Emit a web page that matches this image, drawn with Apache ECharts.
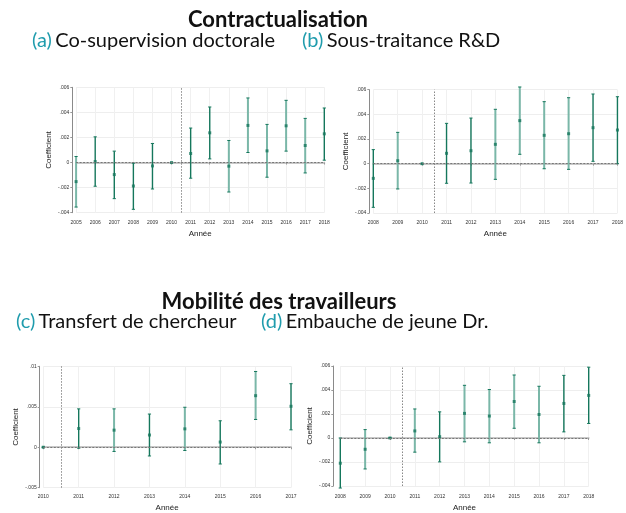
<!DOCTYPE html>
<html>
<head>
<meta charset="utf-8">
<script src="https://cdn.jsdelivr.net/npm/echarts@6/dist/echarts.min.js"></script>
<style>
  html, body { margin: 0; padding: 0; background: #fff; }
  #chart { width: 626px; height: 513px; }
</style>
</head>
<body>
<div id="chart"></div>
<script>
// (a) Co-supervision doctorale
var yearsA = [2005, 2006, 2007, 2008, 2009, 2010, 2011, 2012, 2013, 2014, 2015, 2016, 2017, 2018];
var coefA  = [-0.00152, 0.00008, -0.00096, -0.00187, -0.00027, 0, 0.00072, 0.00237, -0.00029, 0.00296, 0.00093, 0.00293, 0.00136, 0.00229];
var loA    = [-0.00355, -0.00189, -0.00288, -0.00373, -0.00211, 0, -0.00125, 0.00029, -0.00235, 0.0008, -0.00117, 0.00091, -0.00083, 0.00019];
var hiA    = [0.00048, 0.00205, 0.00091, -0.00005, 0.00152, 0, 0.00275, 0.00443, 0.00176, 0.00515, 0.00304, 0.00496, 0.00352, 0.00435];
var lightA = [1, 0, 0, 0, 0, 0, 0, 0, 1, 1, 1, 1, 1, 0];

// (b) Sous-traitance R&D
var yearsB = [2008, 2009, 2010, 2011, 2012, 2013, 2014, 2015, 2016, 2017, 2018];
var coefB  = [-0.00119, 0.00024, 0, 0.00084, 0.00105, 0.00157, 0.00349, 0.0023, 0.00243, 0.00292, 0.00273];
var loB    = [-0.00354, -0.00205, 0, -0.00159, -0.00157, -0.00127, 0.00076, -0.00041, -0.00046, 0.00019, 0];
var hiB    = [0.00114, 0.00254, 0, 0.00327, 0.0037, 0.00441, 0.00622, 0.00503, 0.00535, 0.00565, 0.00543];
var lightB = [0, 1, 0, 0, 0, 1, 1, 1, 1, 0, 0];

// (c) Transfert de chercheur
var yearsC = [2010, 2011, 2012, 2013, 2014, 2015, 2016, 2017];
var coefC  = [0, 0.00231, 0.00211, 0.00151, 0.00227, 0.00064, 0.00637, 0.00506];
var loC    = [0, -0.00012, -0.00052, -0.00108, -0.0004, -0.00207, 0.00343, 0.00215];
var hiC    = [0, 0.00474, 0.00474, 0.0041, 0.00494, 0.00327, 0.00936, 0.00785];
var lightC = [0, 0, 1, 0, 1, 0, 1, 0];

// (d) Embauche de jeune Dr.
var yearsD = [2008, 2009, 2010, 2011, 2012, 2013, 2014, 2015, 2016, 2017, 2018];
var coefD  = [-0.0021, -0.00094, 0, 0.00059, 0.00011, 0.00205, 0.00183, 0.00304, 0.00196, 0.00288, 0.00355];
var loD    = [-0.00417, -0.00258, 0, -0.00118, -0.00199, -0.00032, -0.0004, 0.00081, -0.0004, 0.00051, 0.00121];
var hiD    = [0, 0.0007, 0, 0.00242, 0.00218, 0.00439, 0.00404, 0.00525, 0.00431, 0.00522, 0.0059];
var lightD = [0, 1, 0, 1, 0, 1, 1, 1, 1, 0, 0];

var DARK = '#15775c';
var LIGHT = '#7ab7a8';
var TEAL = '#1f9cad';

var chart = echarts.init(document.getElementById('chart'), null, { renderer: 'canvas' });

function fmtY(v) {
  var s = String(+v.toFixed(6));
  return s.replace(/^(-?)0\./, '$1.');
}

// panneaux : position de la grille et axes
var panels = [
  { years: yearsA, coef: coefA, lo: loA, hi: hiA, light: lightA,
    grid: { left: 76.1, top: 87.3, width: 248.2, height: 125.4 },
    ymin: -0.004, ymax: 0.006, yint: 0.002, yoff: 3.8, xoff: 4 },
  { years: yearsB, coef: coefB, lo: loB, hi: hiB, light: lightB,
    grid: { left: 373.3, top: 89.7, width: 248, height: 123.3 },
    ymin: -0.004, ymax: 0.006, yint: 0.002, yoff: 4, xoff: 3.7 },
  { years: yearsC, coef: coefC, lo: loC, hi: hiC, light: lightC,
    grid: { left: 43.3, top: 366.3, width: 247.7, height: 125.4 },
    ymin: -0.005, ymax: 0.01, yint: 0.005, yoff: 3.6, xoff: 3.3 },
  { years: yearsD, coef: coefD, lo: loD, hi: hiD, light: lightD,
    grid: { left: 340.3, top: 366, width: 248.4, height: 124 },
    ymin: -0.004, ymax: 0.006, yint: 0.002, yoff: 7, xoff: 5 }
];

var grids = [], xAxes = [], yAxes = [], series = [];

panels.forEach(function (p, i) {
  grids.push(p.grid);
  xAxes.push({
    type: 'value', gridIndex: i,
    min: p.years[0], max: p.years[p.years.length - 1], interval: 1,
    offset: p.xoff,
    name: 'Année', nameLocation: 'middle', nameGap: 13,
    nameTextStyle: { fontFamily: 'Liberation Sans', fontSize: 8, color: '#222' },
    axisLine: { lineStyle: { color: '#c8c8c8', width: 2 } },
    axisTick: { length: 2, lineStyle: { color: '#999' } },
    axisLabel: { fontFamily: 'Liberation Sans', fontSize: 5, color: '#333', margin: 3,
      formatter: function (v) { return String(v); } },
    splitLine: { show: true, lineStyle: { color: '#f0f0f0', width: 1 } }
  });
  yAxes.push({
    type: 'value', gridIndex: i,
    min: p.ymin, max: p.ymax, interval: p.yint,
    offset: p.yoff,
    name: 'Coefficient', nameLocation: 'middle', nameGap: 20, nameRotate: 90,
    nameTextStyle: { fontFamily: 'Liberation Sans', fontSize: 8, color: '#222' },
    axisLine: { show: true, lineStyle: { color: '#8a8a8a', width: 1 } },
    axisTick: { show: true, length: 2, lineStyle: { color: '#999' } },
    axisLabel: { fontFamily: 'Liberation Sans', fontSize: 5, color: '#333', margin: 3, formatter: fmtY },
    splitLine: { show: true, lineStyle: { color: '#eeeeee', width: 1 } }
  });

  var bars = p.years.map(function (y, k) { return [y, p.lo[k], p.hi[k], p.light[k]]; });
  var pts = p.years.map(function (y, k) { return [y, p.coef[k]]; });

  // barres d'erreur
  series.push({
    type: 'custom', xAxisIndex: i, yAxisIndex: i, z: 3,
    data: bars,
    renderItem: function (params, api) {
      var x = api.value(0);
      var a = api.coord([x, api.value(1)]);
      var b = api.coord([x, api.value(2)]);
      var col = api.value(3) ? LIGHT : DARK;
      var w = api.value(3) ? 2 : 1.4;
      var c = 1.6;
      return {
        type: 'group',
        children: [
          { type: 'line', shape: { x1: a[0], y1: a[1], x2: b[0], y2: b[1] }, style: { stroke: col, lineWidth: w } },
          { type: 'line', shape: { x1: a[0] - c, y1: a[1], x2: a[0] + c, y2: a[1] }, style: { stroke: DARK, lineWidth: 1 } },
          { type: 'line', shape: { x1: b[0] - c, y1: b[1], x2: b[0] + c, y2: b[1] }, style: { stroke: DARK, lineWidth: 1 } }
        ]
      };
    }
  });
  // coefficients
  series.push({
    type: 'scatter', xAxisIndex: i, yAxisIndex: i, z: 4,
    symbol: 'rect', symbolSize: 3,
    itemStyle: { color: DARK },
    data: pts,
    markLine: {
      silent: true, symbol: 'none', label: { show: false },
      data: [
        { yAxis: 0, lineStyle: { color: '#777', type: [2, 1.5], width: 1 } },
        { xAxis: 2010.5, lineStyle: { color: '#888', type: [1.5, 1.5], width: 1 } }
      ]
    }
  });
});

var font = 'Lato, "Open Sans", sans-serif';
var rich = { t: { fill: TEAL, font: '20px ' + font }, n: { fill: '#111', font: '20px ' + font } };

chart.setOption({
  animation: false,
  backgroundColor: '#fff',
  grid: grids,
  xAxis: xAxes,
  yAxis: yAxes,
  series: series,
  graphic: [
    { type: 'text', x: 278, y: 20, style: { text: 'Contractualisation', font: 'bold 22px ' + font, fill: '#111', align: 'center', verticalAlign: 'middle' } },
    { type: 'text', x: 32, y: 41, style: { text: '{t|(a)} {n|Co-supervision doctorale}', rich: rich, verticalAlign: 'middle' } },
    { type: 'text', x: 302, y: 41, style: { text: '{t|(b)} {n|Sous-traitance R&D}', rich: rich, verticalAlign: 'middle' } },
    { type: 'text', x: 279, y: 302, style: { text: 'Mobilité des travailleurs', font: 'bold 22px ' + font, fill: '#111', align: 'center', verticalAlign: 'middle' } },
    { type: 'text', x: 16, y: 322, style: { text: '{t|(c)} {n|Transfert de chercheur}', rich: rich, verticalAlign: 'middle' } },
    { type: 'text', x: 261, y: 322, style: { text: '{t|(d)} {n|Embauche de jeune Dr.}', rich: rich, verticalAlign: 'middle' } }
  ]
});
</script>
</body>
</html>
